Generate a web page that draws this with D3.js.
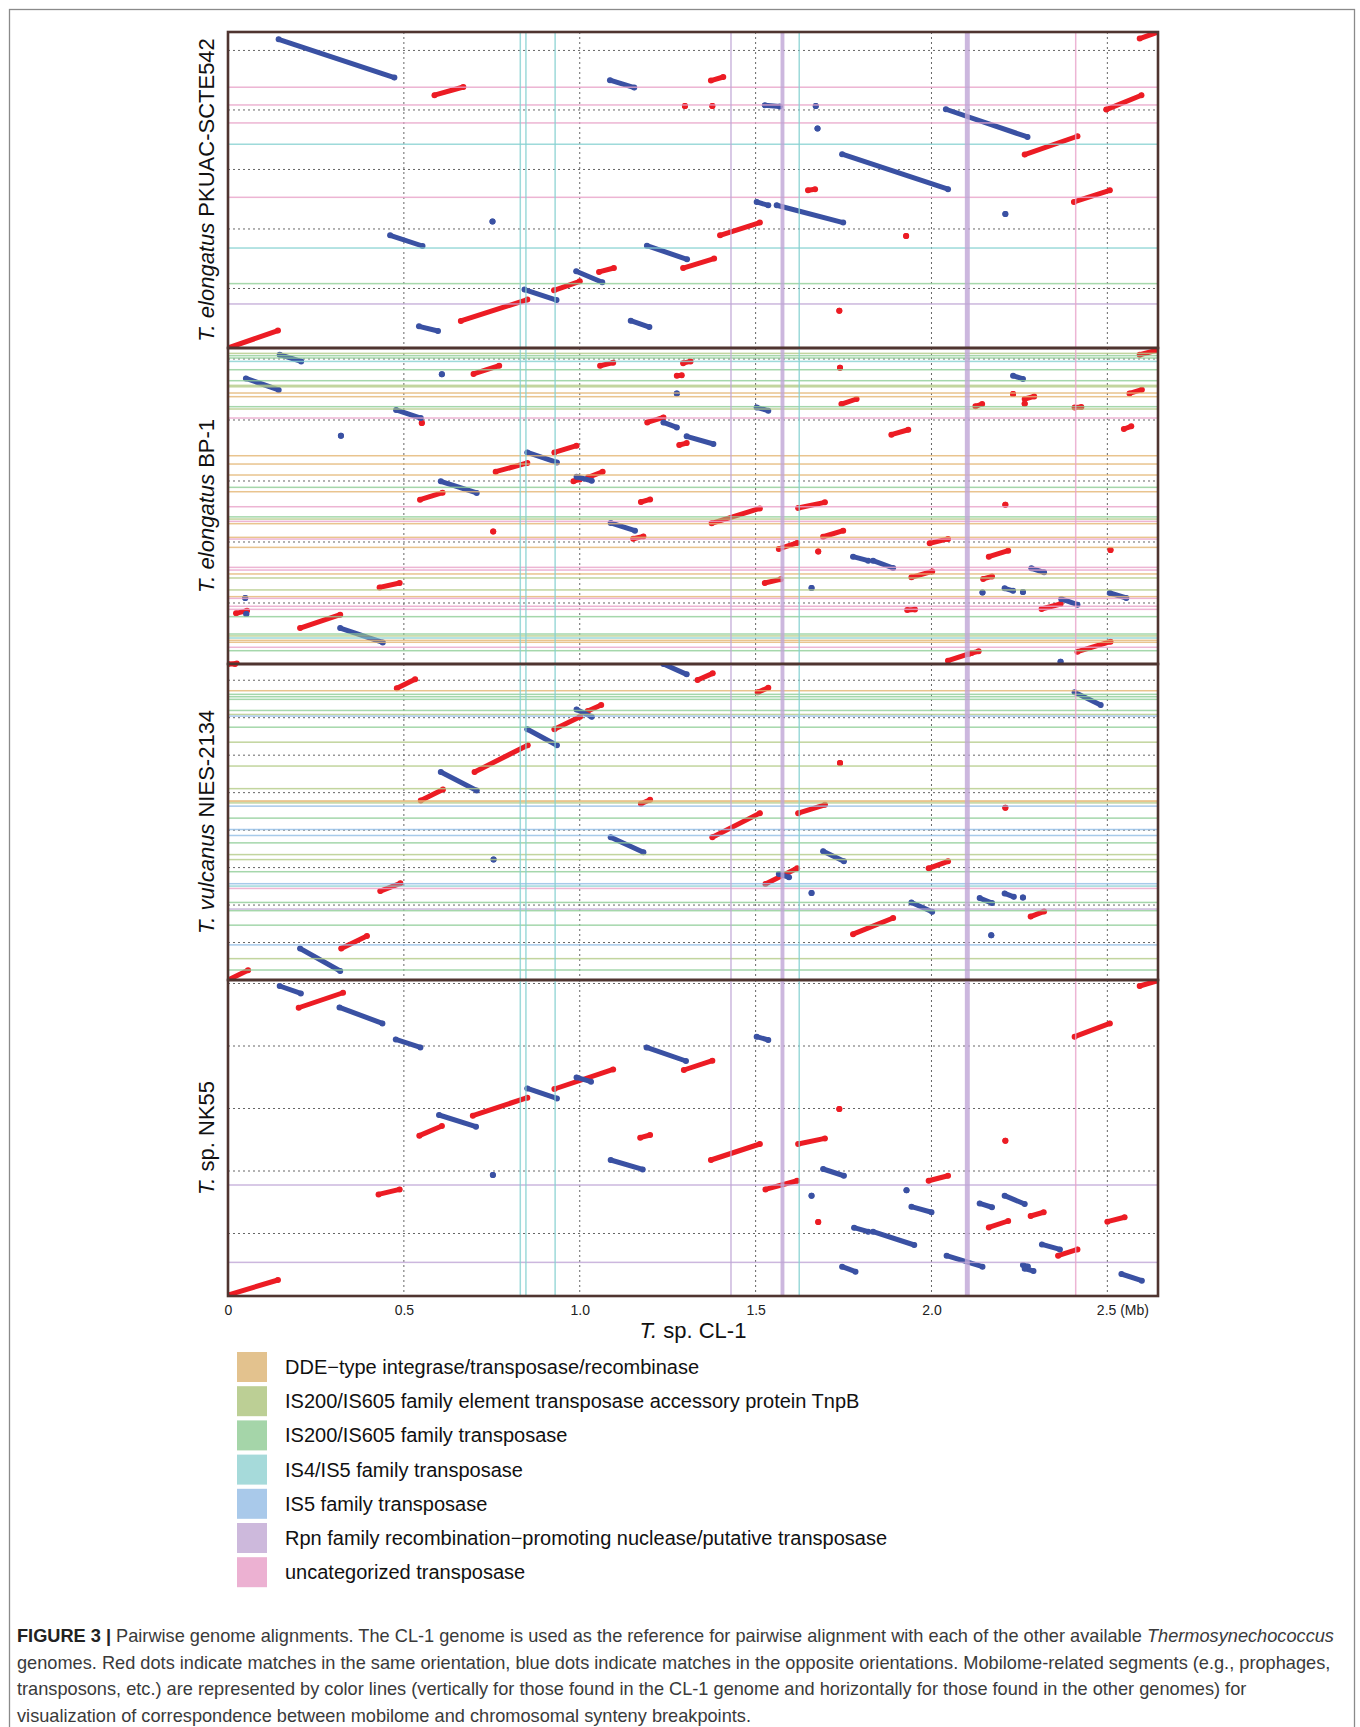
<!DOCTYPE html>
<html>
<head>
<meta charset="utf-8">
<script src="https://cdn.jsdelivr.net/npm/d3@7"></script>
<style>
  body { margin: 0; background: #fff; }
  svg { display: block; font-family: "Liberation Sans", Arial, sans-serif; }
</style>
</head>
<body>
<svg id="fig" width="1360" height="1727"></svg>
<script>
// ---------- data (Mb) ----------
const refName = "CL-1";
const refLength = 2.644;
const xTicks = [0, 0.5, 1.0, 1.5, 2.0, 2.5];

const genomeItalic = ["T. elongatus", "T. elongatus", "T. vulcanus", "T."];
const genomeRest = [" PKUAC-SCTE542", " BP-1", " NIES-2134", " sp. NK55"];
const genomeLength = [2.655, 2.590, 2.530, 2.528];
const gridStep = [0.5, 0.5, 0.3, 0.5];

const mobTypes = [
  "DDE\u2212type integrase/transposase/recombinase",
  "IS200/IS605 family element transposase accessory protein TnpB",
  "IS200/IS605 family transposase",
  "IS4/IS5 family transposase",
  "IS5 family transposase",
  "Rpn family recombination\u2212promoting nuclease/putative transposase",
  "uncategorized transposase"
];

// mobilome segments in CL-1 (vertical lines): [start, end, type]
const refMobilome = [
  [0.831, 0.831, 3], [0.847, 0.847, 3], [0.930, 0.930, 3], [1.430, 1.430, 5],
  [1.573, 1.584, 5], [1.624, 1.624, 3], [2.097, 2.111, 5], [2.410, 2.410, 6]
];

// mobilome segments in the other genomes (horizontal lines): [start, end, type]
const mob1 = [
  [2.191, 2.191, 6], [2.042, 2.042, 6], [1.891, 1.891, 6], [1.712, 1.712, 3],
  [1.266, 1.266, 6], [0.840, 0.840, 3], [0.541, 0.541, 2], [0.370, 0.370, 5]
];
const mob2 = [
  [2.540, 2.552, 1], [2.527, 2.527, 2], [2.508, 2.508, 2], [2.480, 2.480, 3], [2.412, 2.412, 2],
  [2.322, 2.322, 2], [2.266, 2.290, 1], [2.221, 2.221, 0], [2.191, 2.191, 0], [2.109, 2.109, 2],
  [2.090, 2.090, 1], [2.016, 2.016, 6], [1.707, 1.707, 0], [1.639, 1.639, 0], [1.549, 1.549, 0],
  [1.448, 1.448, 2], [1.412, 1.412, 0], [1.289, 1.289, 6], [1.200, 1.212, 2], [1.188, 1.188, 1],
  [1.169, 1.169, 6], [1.150, 1.150, 0], [1.038, 1.038, 0], [1.024, 1.024, 6], [0.956, 0.956, 0],
  [0.792, 0.792, 6], [0.770, 0.770, 6], [0.738, 0.738, 0], [0.705, 0.705, 1], [0.607, 0.607, 1],
  [0.552, 0.552, 0], [0.538, 0.538, 6], [0.473, 0.473, 6], [0.448, 0.448, 6], [0.388, 0.388, 2],
  [0.240, 0.252, 2], [0.230, 0.230, 1], [0.213, 0.213, 3], [0.194, 0.194, 0], [0.178, 0.178, 0],
  [0.137, 0.137, 6], [0.109, 0.109, 2]
];
const mob3 = [
  [2.316, 2.316, 0], [2.287, 2.287, 2], [2.268, 2.268, 2], [2.247, 2.247, 2], [2.158, 2.158, 2],
  [2.126, 2.126, 1], [2.113, 2.113, 4], [2.018, 2.030, 2], [1.904, 1.904, 1], [1.713, 1.713, 1],
  [1.532, 1.532, 1], [1.425, 1.440, 0], [1.418, 1.418, 1], [1.392, 1.392, 4], [1.290, 1.302, 2],
  [1.205, 1.205, 4], [1.157, 1.157, 4], [1.098, 1.098, 2], [1.004, 1.004, 1], [0.964, 0.964, 1],
  [0.867, 0.867, 2], [0.765, 0.777, 4], [0.752, 0.752, 3], [0.733, 0.733, 6], [0.615, 0.627, 2],
  [0.568, 0.568, 5], [0.555, 0.555, 2], [0.439, 0.439, 2], [0.281, 0.281, 4], [0.171, 0.171, 1],
  [0.080, 0.080, 2]
];
const mob4 = [[0.888, 0.888, 5], [0.269, 0.269, 5]];

// alignment matches: [x1, y1, x2, y2] (x = CL-1, y = other genome)
const same1 = [
  [0, 0, 0.142, 0.146], [0.587, 2.124, 0.669, 2.193], [1.299, 2.034, 1.299, 2.034],
  [0.662, 0.227, 0.851, 0.407], [0.927, 0.485, 1.000, 0.560], [1.055, 0.639, 1.097, 0.672],
  [1.294, 0.672, 1.382, 0.751], [1.373, 2.247, 1.408, 2.277], [1.377, 2.034, 1.377, 2.034],
  [1.649, 1.325, 1.669, 1.334], [1.399, 0.947, 1.512, 1.054], [1.738, 0.314, 1.738, 0.314],
  [1.928, 0.941, 1.928, 0.941], [2.265, 1.625, 2.415, 1.779], [2.405, 1.227, 2.507, 1.325],
  [2.497, 2.003, 2.597, 2.124], [2.592, 2.600, 2.644, 2.655]
];
const opp1 = [
  [0.144, 2.594, 0.473, 2.272], [1.086, 2.250, 1.155, 2.188], [0.461, 0.947, 0.553, 0.857],
  [0.752, 1.062, 0.752, 1.062], [0.543, 0.182, 0.597, 0.143], [0.843, 0.491, 0.934, 0.403],
  [0.990, 0.645, 1.064, 0.552], [1.145, 0.230, 1.198, 0.176], [1.191, 0.860, 1.305, 0.745],
  [1.526, 2.040, 1.569, 2.030], [1.671, 2.034, 1.671, 2.034], [1.676, 1.844, 1.676, 1.844],
  [1.503, 1.227, 1.536, 1.199], [1.560, 1.199, 1.749, 1.054], [1.746, 1.628, 2.047, 1.334],
  [2.041, 2.006, 2.273, 1.773], [2.210, 1.126, 2.210, 1.126]
];
const same2 = [
  [0, 0, 0.025, 0.005], [0.698, 2.377, 0.771, 2.445], [0.551, 1.975, 0.551, 1.975],
  [1.058, 2.445, 1.095, 2.470], [1.276, 2.363, 1.290, 2.366], [1.294, 2.466, 1.315, 2.480],
  [1.192, 1.980, 1.238, 2.021], [1.283, 1.795, 1.304, 1.811], [0.761, 1.576, 0.851, 1.648],
  [0.928, 1.734, 0.991, 1.789], [0.982, 1.497, 1.000, 1.513], [1.024, 1.530, 1.065, 1.576],
  [0.546, 1.347, 0.610, 1.404], [1.174, 1.328, 1.200, 1.349], [0.754, 1.087, 0.754, 1.087],
  [1.152, 1.027, 1.181, 1.046], [0.431, 0.628, 0.488, 0.664], [0.023, 0.415, 0.054, 0.437],
  [0.205, 0.295, 0.319, 0.404], [1.740, 2.429, 1.740, 2.429], [1.744, 2.131, 1.787, 2.172],
  [1.886, 1.880, 1.934, 1.920], [2.232, 2.213, 2.232, 2.213], [2.265, 2.172, 2.292, 2.193],
  [2.265, 2.134, 2.265, 2.134], [2.125, 2.112, 2.144, 2.131], [2.407, 2.103, 2.426, 2.106],
  [2.563, 2.218, 2.598, 2.248], [2.547, 1.926, 2.568, 1.948], [2.592, 2.535, 2.644, 2.574],
  [1.375, 1.153, 1.512, 1.275], [1.621, 1.279, 1.697, 1.325], [2.210, 1.306, 2.210, 1.306],
  [1.692, 1.043, 1.749, 1.093], [1.566, 0.943, 1.618, 0.992], [1.678, 0.923, 1.678, 0.923],
  [1.995, 0.989, 2.047, 1.025], [2.163, 0.880, 2.218, 0.929], [2.509, 0.934, 2.509, 0.934],
  [1.943, 0.710, 2.002, 0.759], [2.147, 0.697, 2.172, 0.718], [1.526, 0.664, 1.571, 0.694],
  [2.313, 0.451, 2.367, 0.492], [1.931, 0.443, 1.953, 0.446], [2.047, 0.027, 2.106, 0.082],
  [2.114, 0.090, 2.134, 0.104], [2.415, 0.101, 2.509, 0.183]
];
const opp2 = [
  [0.147, 2.535, 0.208, 2.480], [0.051, 2.341, 0.144, 2.246], [0.608, 2.374, 0.608, 2.374],
  [0.478, 2.082, 0.548, 2.016], [0.321, 1.871, 0.321, 1.871], [1.276, 2.218, 1.276, 2.218],
  [1.238, 1.980, 1.276, 1.939], [1.304, 1.866, 1.380, 1.803], [0.851, 1.734, 0.935, 1.652],
  [0.991, 1.535, 1.034, 1.502], [0.605, 1.497, 0.707, 1.402], [1.088, 1.156, 1.157, 1.093],
  [0.049, 0.541, 0.049, 0.541], [0.052, 0.410, 0.052, 0.410], [0.319, 0.295, 0.440, 0.177],
  [1.503, 2.103, 1.536, 2.076], [2.232, 2.363, 2.260, 2.336], [1.777, 0.880, 1.820, 0.847],
  [1.834, 0.847, 1.891, 0.787], [2.284, 0.784, 2.320, 0.751], [1.659, 0.623, 1.659, 0.623],
  [2.145, 0.587, 2.145, 0.587], [2.208, 0.620, 2.232, 0.600], [2.260, 0.590, 2.260, 0.590],
  [2.507, 0.582, 2.554, 0.541], [2.369, 0.533, 2.415, 0.486], [2.367, 0.019, 2.367, 0.019]
];
const same3 = [
  [0, 2.530, 0.020, 2.530], [0.480, 2.335, 0.532, 2.407], [1.023, 2.153, 1.061, 2.201],
  [0.928, 2.008, 1.001, 2.107], [0.701, 1.665, 0.852, 1.880], [0.548, 1.438, 0.611, 1.526],
  [1.174, 1.411, 1.200, 1.443], [0.433, 0.712, 0.490, 0.774], [0.322, 0.252, 0.395, 0.353],
  [0, 0, 0.057, 0.078], [1.335, 2.402, 1.378, 2.455], [1.506, 2.303, 1.536, 2.340],
  [1.740, 1.737, 1.740, 1.737], [1.377, 1.143, 1.512, 1.336], [1.621, 1.336, 1.697, 1.403],
  [2.210, 1.379, 2.210, 1.379], [1.528, 0.769, 1.618, 0.894], [1.992, 0.894, 2.047, 0.950],
  [2.282, 0.508, 2.320, 0.549], [1.777, 0.367, 1.891, 0.496]
];
const opp3 = [
  [1.238, 2.530, 1.304, 2.447], [0.991, 2.166, 1.034, 2.107], [0.851, 2.008, 0.935, 1.880],
  [0.605, 1.665, 0.707, 1.518], [1.088, 1.143, 1.181, 1.023], [0.755, 0.964, 0.755, 0.964],
  [0.205, 0.252, 0.319, 0.072], [2.407, 2.303, 2.481, 2.201], [1.692, 1.031, 1.751, 0.950],
  [1.566, 0.849, 1.595, 0.822], [1.659, 0.696, 1.659, 0.696], [1.943, 0.621, 2.002, 0.546],
  [2.137, 0.656, 2.172, 0.616], [2.208, 0.693, 2.234, 0.666], [2.260, 0.660, 2.260, 0.660],
  [2.170, 0.359, 2.170, 0.359]
];
const same4 = [
  [0.201, 2.306, 0.327, 2.426], [1.296, 1.808, 1.377, 1.883], [0.928, 1.656, 1.095, 1.813],
  [0.696, 1.443, 0.851, 1.587], [0.544, 1.283, 0.608, 1.360], [1.172, 1.267, 1.200, 1.288],
  [0.428, 0.813, 0.488, 0.853], [0, 0.008, 0.142, 0.128], [1.373, 1.088, 1.512, 1.216],
  [1.621, 1.216, 1.697, 1.261], [1.738, 1.496, 1.738, 1.496], [2.210, 1.243, 2.210, 1.243],
  [2.407, 2.075, 2.507, 2.181], [2.592, 2.480, 2.644, 2.522], [1.528, 0.853, 1.618, 0.922],
  [1.992, 0.922, 2.047, 0.962], [1.678, 0.592, 1.678, 0.592], [2.163, 0.549, 2.218, 0.600],
  [2.282, 0.640, 2.319, 0.670], [2.360, 0.323, 2.415, 0.373], [2.500, 0.595, 2.549, 0.630]
];
const opp4 = [
  [0.147, 2.480, 0.207, 2.421], [0.317, 2.309, 0.439, 2.181], [0.477, 2.053, 0.547, 1.989],
  [1.190, 1.989, 1.302, 1.880], [0.991, 1.749, 1.032, 1.715], [0.851, 1.661, 0.935, 1.581],
  [0.600, 1.448, 0.705, 1.355], [1.088, 1.088, 1.179, 1.013], [0.753, 0.968, 0.753, 0.968],
  [1.503, 2.075, 1.536, 2.048], [1.692, 1.016, 1.751, 0.962], [1.659, 0.803, 1.659, 0.803],
  [1.929, 0.846, 1.929, 0.846], [1.943, 0.715, 2.000, 0.670], [1.780, 0.547, 1.820, 0.515],
  [1.834, 0.515, 1.951, 0.408], [1.746, 0.235, 1.784, 0.195], [2.043, 0.323, 2.145, 0.235],
  [2.137, 0.741, 2.172, 0.710], [2.208, 0.803, 2.265, 0.736], [2.314, 0.413, 2.365, 0.373],
  [2.260, 0.248, 2.274, 0.237], [2.265, 0.219, 2.290, 0.200], [2.540, 0.176, 2.598, 0.123]
];

const mobilome = [mob1, mob2, mob3, mob4];
const sameMatches = [same1, same2, same3, same4];
const oppMatches = [opp1, opp2, opp3, opp4];

const captionLines = [
  [["FIGURE 3 |", "b"], [" Pairwise genome alignments. The CL-1 genome is used as the reference for pairwise alignment with each of the other available ", ""], ["Thermosynechococcus", "i"]],
  [["genomes. Red dots indicate matches in the same orientation, blue dots indicate matches in the opposite orientations. Mobilome-related segments (e.g., prophages,", ""]],
  [["transposons, etc.) are represented by color lines (vertically for those found in the CL-1 genome and horizontally for those found in the other genomes) for", ""]],
  [["visualization of correspondence between mobilome and chromosomal synteny breakpoints.", ""]]
];

// ---------- style ----------
const lineColor = ["#e4b673", "#b3cb86", "#8fce97", "#86d2d2", "#92bde6", "#c0a6d6", "#e9a3c9"];
const swatchColor = ["#e3c28e", "#bccf95", "#a5d5a9", "#a6dada", "#a9c9ea", "#cdb9dc", "#ecb1d2"];
const red = "#ec1c24", blue = "#3a51a3";

const left = 228, right = 1158, panelH = 316;
const panelTop = [32, 348, 664, 980];

const svg = d3.select("#fig");

// outer frame
svg.append("rect").attr("x", 9.5).attr("y", 9.5).attr("width", 1345).attr("height", 1740)
  .attr("fill", "none").attr("stroke", "#8a8a8a").attr("stroke-width", 1.3);

const x = d3.scaleLinear().domain([0, refLength]).range([left, right]);

panelTop.forEach((top, p) => {
  const y = d3.scaleLinear().domain([0, genomeLength[p]]).range([top + panelH, top]);
  const g = svg.append("g");

  g.append("clipPath").attr("id", "clip" + p)
    .append("rect").attr("x", left).attr("y", top).attr("width", right - left).attr("height", panelH);

  const body = g.append("g").attr("clip-path", `url(#clip${p})`);

  // dotted grid
  body.selectAll(".vg").data(xTicks.filter(d => d > 0)).join("line")
    .attr("x1", d => x(d)).attr("x2", d => x(d))
    .attr("y1", top).attr("y2", top + panelH)
    .attr("stroke", "#666").attr("stroke-width", 1).attr("stroke-dasharray", "2,3");
  const yGrid = d3.range(gridStep[p], genomeLength[p], gridStep[p]);
  body.selectAll(".hg").data(yGrid).join("line")
    .attr("x1", left).attr("x2", right)
    .attr("y1", d => y(d)).attr("y2", d => y(d))
    .attr("stroke", "#666").attr("stroke-width", 1).attr("stroke-dasharray", "2,3");

  // matches
  [[sameMatches[p], red], [oppMatches[p], blue]].forEach(([segs, col]) => {
    body.append("g").selectAll("line").data(segs).join("line")
      .attr("x1", d => x(d[0])).attr("y1", d => y(d[1]))
      .attr("x2", d => x(d[2])).attr("y2", d => y(d[3]))
      .attr("stroke", col).attr("stroke-width", 5).attr("stroke-linecap", "round");
    body.append("g").selectAll("circle").data(segs.flatMap(d => [[d[0], d[1]], [d[2], d[3]]])).join("circle")
      .attr("cx", d => x(d[0])).attr("cy", d => y(d[1])).attr("r", 3).attr("fill", col);
  });

  // mobilome lines, over the dots
  body.append("g").attr("opacity", 0.8).selectAll("rect").data(mobilome[p]).join("rect")
    .attr("x", left).attr("width", right - left)
    .attr("y", d => Math.min(y(d[1]), y(d[0]) - 0.75))
    .attr("height", d => Math.max(1.5, y(d[0]) - y(d[1])))
    .attr("fill", d => lineColor[d[2]]);
  body.append("g").attr("opacity", 0.8).selectAll("rect").data(refMobilome).join("rect")
    .attr("y", top).attr("height", panelH)
    .attr("x", d => Math.min(x(d[0]), x(d[0]) - 0.75))
    .attr("width", d => Math.max(1.5, x(d[1]) - x(d[0])))
    .attr("fill", d => lineColor[d[2]]);

  // panel border
  g.append("rect").attr("x", left).attr("y", top).attr("width", right - left).attr("height", panelH)
    .attr("fill", "none").attr("stroke", "#4f3530").attr("stroke-width", 2.6);

  // genome label
  const lab = g.append("text")
    .attr("transform", `translate(214,${top + panelH / 2}) rotate(-90)`)
    .attr("text-anchor", "middle").attr("font-size", 22).attr("fill", "#111");
  lab.append("tspan").attr("font-style", "italic").text(genomeItalic[p]);
  lab.append("tspan").text(genomeRest[p]);
});

// x axis labels
const axisY = panelTop[3] + panelH;
const xAxis = d3.axisBottom(x).tickValues(xTicks).tickSize(0).tickPadding(9)
  .tickFormat(d => d === 0 ? "0" : d3.format(".1f")(d));
const ax = svg.append("g").attr("transform", `translate(0,${axisY})`).call(xAxis);
ax.select(".domain").remove();
ax.selectAll("text").attr("font-size", 14).attr("fill", "#222")
  .attr("font-family", '"Liberation Sans", Arial, sans-serif');
ax.selectAll(".tick").filter(d => d === 2.5).select("text")
  .attr("text-anchor", "start").attr("dx", -11).text("2.5 (Mb)");

const xt = svg.append("text").attr("x", (left + right) / 2).attr("y", axisY + 42)
  .attr("text-anchor", "middle").attr("font-size", 22).attr("fill", "#111");
xt.append("tspan").attr("font-style", "italic").text("T.");
xt.append("tspan").text(" sp. " + refName);

// legend
const leg = svg.append("g").attr("transform", "translate(237,1352)");
const row = leg.selectAll("g").data(mobTypes).join("g")
  .attr("transform", (d, i) => `translate(0,${i * 34.2})`);
row.append("rect").attr("width", 30).attr("height", 30).attr("fill", (d, i) => swatchColor[i]);
row.append("text").attr("x", 48).attr("y", 22).attr("font-size", 20)
  .attr("font-family", '"Liberation Sans Narrow", "Arial Narrow", "Liberation Sans", sans-serif')
  .attr("fill", "#111").text(d => d);

// caption
const cap = svg.append("g").attr("font-size", 18.2).attr("fill", "#3a3a3a");
captionLines.forEach((parts, i) => {
  const t = cap.append("text").attr("x", 17).attr("y", 1642 + i * 26.5);
  parts.forEach(([s, st]) => {
    const ts = t.append("tspan").text(s);
    if (st === "b") ts.attr("font-weight", "bold").attr("fill", "#222");
    if (st === "i") ts.attr("font-style", "italic");
  });
});
</script>
</body>
</html>
